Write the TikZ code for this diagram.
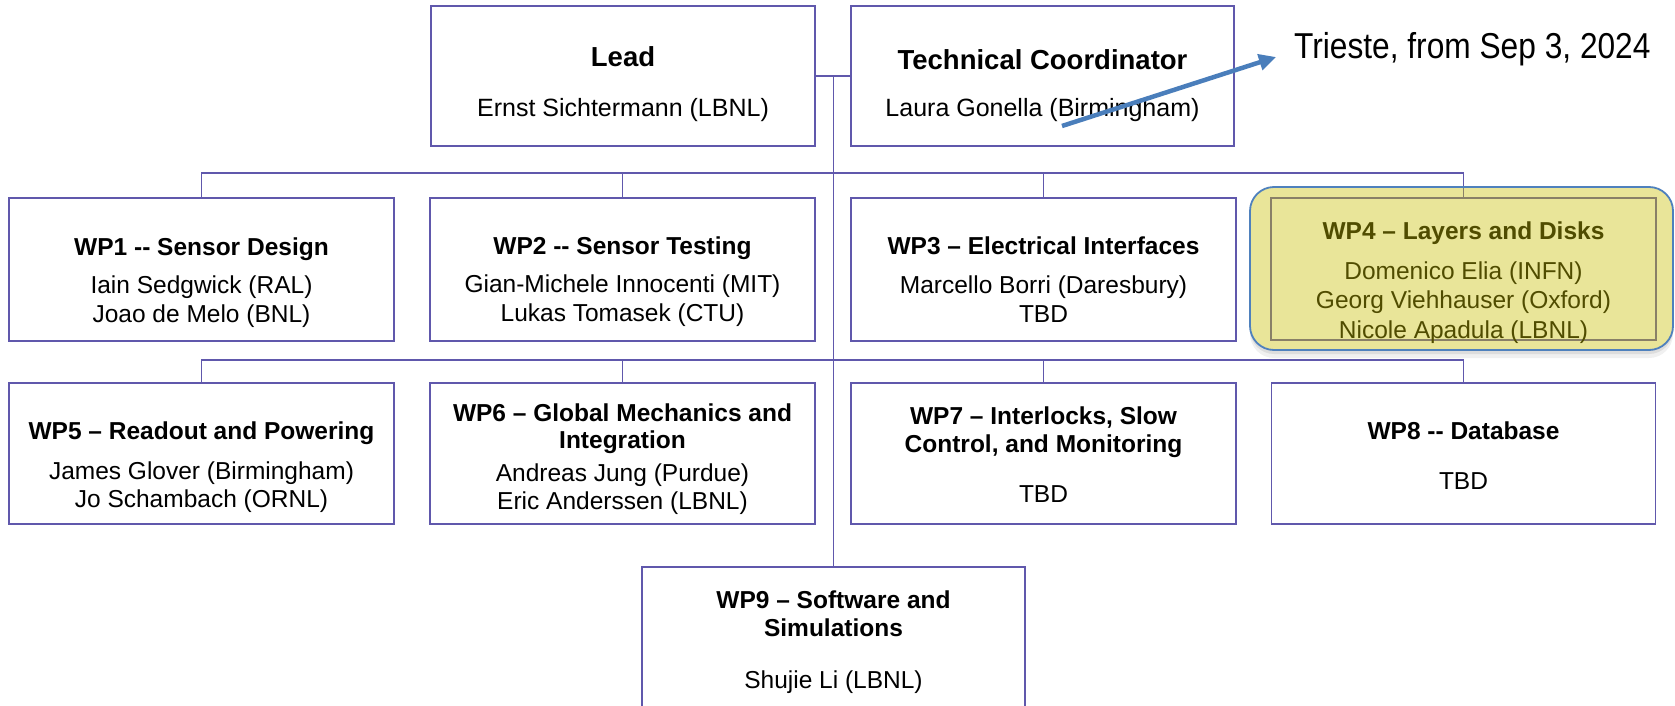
\documentclass[tikz,border=0pt]{standalone}
\usepackage{fontspec}
\setmainfont{Liberation Sans}
\usetikzlibrary{arrows.meta}
\definecolor{boxline}{RGB}{96,88,172}
\definecolor{hlfill}{RGB}{200,190,0}
\definecolor{hlborder}{RGB}{79,129,189}
\definecolor{arrblue}{RGB}{74,126,187}
\newcommand\wpf{\fontsize{24.5}{28}\selectfont}
\newcommand\topf{\fontsize{25}{30}\selectfont}
\newcommand\topbf{\fontsize{27.5}{32}\selectfont\bfseries}
\begin{document}
\begin{tikzpicture}[x=1pt,y=-1pt,
  box/.style={draw=boxline, line width=1.8pt, fill=white, minimum width=385pt, minimum height=143pt, inner sep=0pt, outer sep=0pt},
  wl/.style={inner sep=0pt, anchor=base, font=\wpf},
  wt/.style={inner sep=0pt, anchor=base, font=\wpf\bfseries},
  tl/.style={inner sep=0pt, anchor=base, font=\topf},
  tt/.style={inner sep=0pt, anchor=base, font=\topbf},
  conn/.style={draw=boxline, line width=1.8pt},
  hl/.style={rounded corners=24pt}]
\useasboundingbox (0,0) rectangle (1675,706);
\clip (0,0) rectangle (1675,706);
\fill[white] (0,0) rectangle (1675,706);

% shadow and white base of highlight
\fill[black, opacity=0.06, hl] (1250,193) rectangle (1673,358);
\fill[black, opacity=0.08, hl] (1250,190) rectangle (1673,354);
\fill[white, hl] (1250,187) rectangle (1673,350);

% top boxes
\node[box, minimum width=384pt, minimum height=140pt] (lead) at (623,76) {};
\node[box, minimum width=383pt, minimum height=140pt] (tc) at (1042.5,76) {};
\node[tt] (leadt) at (623,67) {Lead};
\node[tl] (leadn) at (623,117) {Ernst Sichtermann (LBNL)};
\node[tt] (tct) at (1042.5,70) {Technical Coordinator};
\node[tl] (tcn) at (1042.5,117) {Laura Gonella (Birmingham)};

% row 1
\node[box] (wp1) at (201.5,269.5) {};
\node[box] (wp2) at (622.5,269.5) {};
\node[box] (wp3) at (1043.5,269.5) {};
\node[box, minimum height=142pt] (wp4) at (1463.5,269) {};
\node[wt] (wp1a) at (201.5,255) {WP1 -\kern0pt- Sensor Design};
\node[wl] (wp1b) at (201.5,293) {Iain Sedgwick (RAL)};
\node[wl] (wp1c) at (201.5,322) {Joao de Melo (BNL)};
\node[wt] (wp2a) at (622.5,254) {WP2 -\kern0pt- Sensor Testing};
\node[wl] (wp2b) at (622.5,292) {Gian-Michele Innocenti (MIT)};
\node[wl] (wp2c) at (622.5,321) {Lukas Tomasek (CTU)};
\node[wt] (wp3a) at (1043.5,254) {WP3 – Electrical Interfaces};
\node[wl] (wp3b) at (1043.5,293) {Marcello Borri (Daresbury)};
\node[wl] (wp3c) at (1043.5,322) {TBD};
\node[wt] (wp4a) at (1463.5,239) {WP4 – Layers and Disks};
\node[wl] (wp4b) at (1463.5,279) {Domenico Elia (INFN)};
\node[wl] (wp4c) at (1463.5,308) {Georg Viehhauser (Oxford)};
\node[wl] (wp4d) at (1463.5,338) {Nicole Apadula (LBNL)};

% row 2
\node[box, minimum height=141pt] (wp5) at (201.5,453.5) {};
\node[box, minimum height=141pt] (wp6) at (622.5,453.5) {};
\node[box, minimum height=141pt] (wp7) at (1043.5,453.5) {};
\node[box, minimum height=141pt, minimum width=384pt] (wp8) at (1463.5,453.5) {};
\node[wt] (wp5a) at (201.5,439) {WP5 – Readout and Powering};
\node[wl] (wp5b) at (201.5,479) {James Glover (Birmingham)};
\node[wl] (wp5c) at (201.5,507) {Jo Schambach (ORNL)};
\node[wt] (wp6a) at (622.5,421) {WP6 – Global Mechanics and};
\node[wt] (wp6b) at (622.5,448) {Integration};
\node[wl] (wp6c) at (622.5,481) {Andreas Jung (Purdue)};
\node[wl] (wp6d) at (622.5,509) {Eric Anderssen (LBNL)};
\node[wt] (wp7a) at (1043.5,424) {WP7 – Interlocks, Slow};
\node[wt] (wp7b) at (1043.5,452) {Control, and Monitoring};
\node[wl] (wp7c) at (1043.5,502) {TBD};
\node[wt] (wp8a) at (1463.5,439) {WP8 -\kern0pt- Database};
\node[wl] (wp8b) at (1463.5,489) {TBD};

% row 3
\node[box, minimum width=383pt, minimum height=233pt] (wp9) at (833.5,683.5) {};
\node[wt] (wp9a) at (833.5,608) {WP9 – Software and};
\node[wt] (wp9b) at (833.5,636) {Simulations};
\node[wl] (wp9c) at (833.5,688) {Shujie Li (LBNL)};

% connectors
\draw[conn] (lead.east) -- (tc.west);
\draw[conn] (lead.east -| wp9.north) -- (wp9.north);
\draw[conn] (wp1.north) -- ++(0,-25) -| (wp4.north);
\draw[conn] (wp2.north) -- ++(0,-25);
\draw[conn] (wp3.north) -- ++(0,-25);
\draw[conn] (wp5.north) -- ++(0,-23) -| (wp8.north);
\draw[conn] (wp6.north) -- ++(0,-23);
\draw[conn] (wp7.north) -- ++(0,-23);

% highlight overlay
\path[hl, fill=hlfill, fill opacity=0.4] (1250,187) rectangle (1673,350);
\draw[hl, draw=hlborder, line width=1.8pt] (1250,187) rectangle (1673,350);

% arrow and note
\coordinate (arrS) at (1062,126);
\coordinate (arrE) at (1276,57);
\draw[arrblue, line width=4.5pt, -{Triangle[length=17pt,width=16pt]}] (arrS) -- (arrE);
\node[inner sep=0pt, anchor=base west] (trieste) at (1294,59)
  {\scalebox{0.88}[1]{\fontsize{36}{40}\selectfont Trieste, from Sep 3, 2024}};
\end{tikzpicture}
\end{document}
